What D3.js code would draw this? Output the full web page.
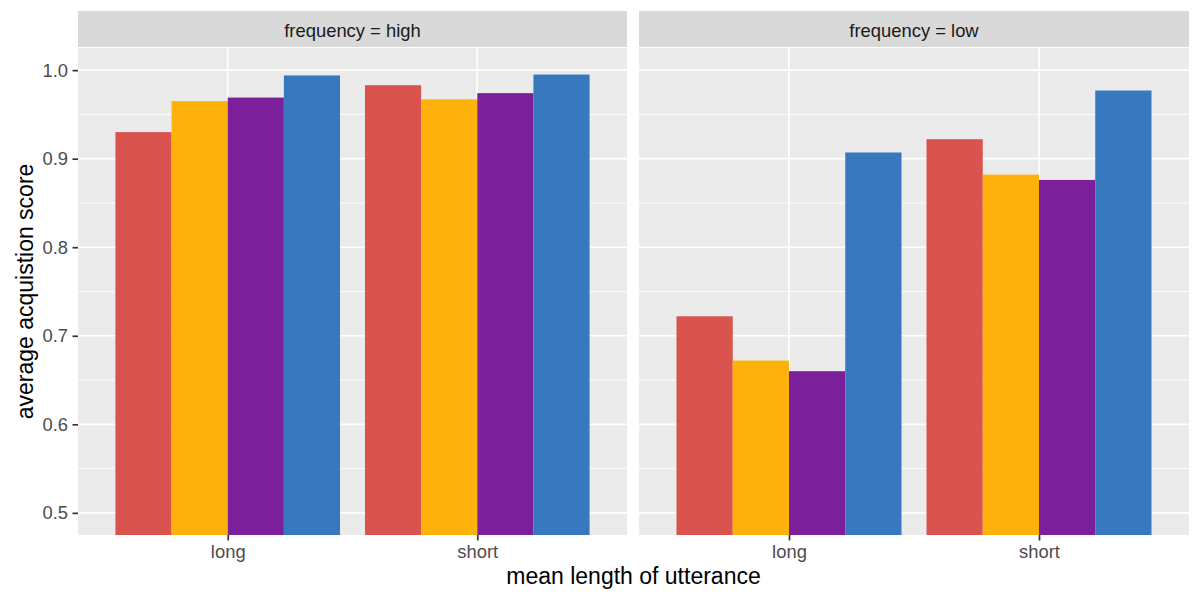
<!DOCTYPE html>
<html>
<head>
<meta charset="utf-8">
<script src="https://cdn.jsdelivr.net/npm/d3@7"></script>
<style>
  html, body { margin: 0; padding: 0; background: #fff; }
  text { font-family: "Liberation Sans", Arial, sans-serif; }
</style>
</head>
<body>
<svg id="chart" width="1200" height="600"></svg>
<script>
const facets = ["high", "low"];
const categories = ["long", "short"];
const series = ["s1", "s2", "s3", "s4"];
const colors = ["#D9534F", "#FDB10B", "#7B1F9A", "#3778BE"];
const yTicks = [0.5, 0.6, 0.7, 0.8, 0.9, 1.0];
// values[facet][category] = one value per series
const highLong  = [0.930, 0.965, 0.969, 0.994];
const highShort = [0.983, 0.967, 0.974, 0.995];
const lowLong   = [0.722, 0.672, 0.660, 0.907];
const lowShort  = [0.922, 0.882, 0.876, 0.977];
const values = { high: { long: highLong, short: highShort }, low: { long: lowLong, short: lowShort } };

const svg = d3.select("#chart");
const panelTop = 48, panelBottom = 535, stripTop = 11;
const panels = [{ x0: 78, x1: 627 }, { x0: 639, x1: 1189 }];
const tickFont = 18.4, titleFont = 23;

const y = d3.scaleLinear().domain([0.475, 1.025]).range([panelBottom, panelTop]);

facets.forEach((f, i) => {
  const p = panels[i];
  const g = svg.append("g");
  // strip
  g.append("rect").attr("x", p.x0).attr("y", stripTop).attr("width", p.x1 - p.x0).attr("height", panelTop - stripTop - 1).attr("fill", "#d9d9d9");
  g.append("text").attr("x", (p.x0 + p.x1) / 2).attr("y", 36.5)
    .attr("text-anchor", "middle").attr("font-size", tickFont).attr("fill", "#1a1a1a").text("frequency = " + f);
  // panel background
  g.append("rect").attr("x", p.x0).attr("y", panelTop).attr("width", p.x1 - p.x0).attr("height", panelBottom - panelTop).attr("fill", "#ebebeb");

  // discrete x scale with ggplot expansion of 0.6
  const xc = d3.scaleLinear().domain([0.4, 2.6]).range([p.x0, p.x1]);
  const unit = xc(2) - xc(1);
  const xs = d3.scaleBand().domain(series).range([-0.45 * unit, 0.45 * unit]).padding(0);

  // gridlines
  const minor = [0.55, 0.65, 0.75, 0.85, 0.95];
  g.selectAll(".minor").data(minor).enter().append("line")
    .attr("x1", p.x0).attr("x2", p.x1).attr("y1", d => y(d)).attr("y2", d => y(d))
    .attr("stroke", "#fff").attr("stroke-width", 0.85);
  g.selectAll(".major").data(yTicks).enter().append("line")
    .attr("x1", p.x0).attr("x2", p.x1).attr("y1", d => y(d)).attr("y2", d => y(d))
    .attr("stroke", "#fff").attr("stroke-width", 1.7);
  g.selectAll(".vmajor").data(categories).enter().append("line")
    .attr("x1", (d, k) => xc(k + 1)).attr("x2", (d, k) => xc(k + 1)).attr("y1", panelTop).attr("y2", panelBottom)
    .attr("stroke", "#fff").attr("stroke-width", 1.7);

  // bars
  categories.forEach((c, k) => {
    const cx = xc(k + 1);
    g.selectAll(".bar" + k).data(values[f][c]).enter().append("rect")
      .attr("x", (d, s) => cx + xs(series[s]))
      .attr("width", xs.bandwidth())
      .attr("y", d => y(d))
      .attr("height", d => panelBottom - y(d))
      .attr("fill", (d, s) => colors[s]);
  });

  // x axis
  const xAxis = d3.axisBottom(d3.scaleOrdinal().domain(categories).range(categories.map((c, k) => xc(k + 1))))
    .tickSize(5.5).tickPadding(4);
  const ax = g.append("g").attr("transform", `translate(0,${panelBottom})`).call(xAxis);
  ax.select(".domain").remove();
  ax.selectAll(".tick line").attr("stroke", "#333").attr("stroke-width", 1.7);
  ax.selectAll(".tick text").attr("font-size", tickFont).attr("fill", "#4d4d4d").attr("font-family", "Liberation Sans, Arial, sans-serif");
});

// y axis on first panel
const yAxis = d3.axisLeft(y).tickValues(yTicks).tickFormat(d3.format(".1f")).tickSize(5.5).tickPadding(4.5);
const ay = svg.append("g").attr("transform", `translate(${panels[0].x0},0)`).call(yAxis);
ay.select(".domain").remove();
ay.selectAll(".tick line").attr("stroke", "#333").attr("stroke-width", 1.7);
ay.selectAll(".tick text").attr("font-size", tickFont).attr("fill", "#4d4d4d").attr("font-family", "Liberation Sans, Arial, sans-serif");

// axis titles
svg.append("text").attr("x", (panels[0].x0 + panels[1].x1) / 2).attr("y", 584)
  .attr("text-anchor", "middle").attr("font-size", titleFont).attr("fill", "#000").text("mean length of utterance");
svg.append("text").attr("transform", `translate(33,${(panelTop + panelBottom) / 2}) rotate(-90)`)
  .attr("text-anchor", "middle").attr("font-size", titleFont).attr("fill", "#000").text("average acquistion score");
</script>
</body>
</html>
